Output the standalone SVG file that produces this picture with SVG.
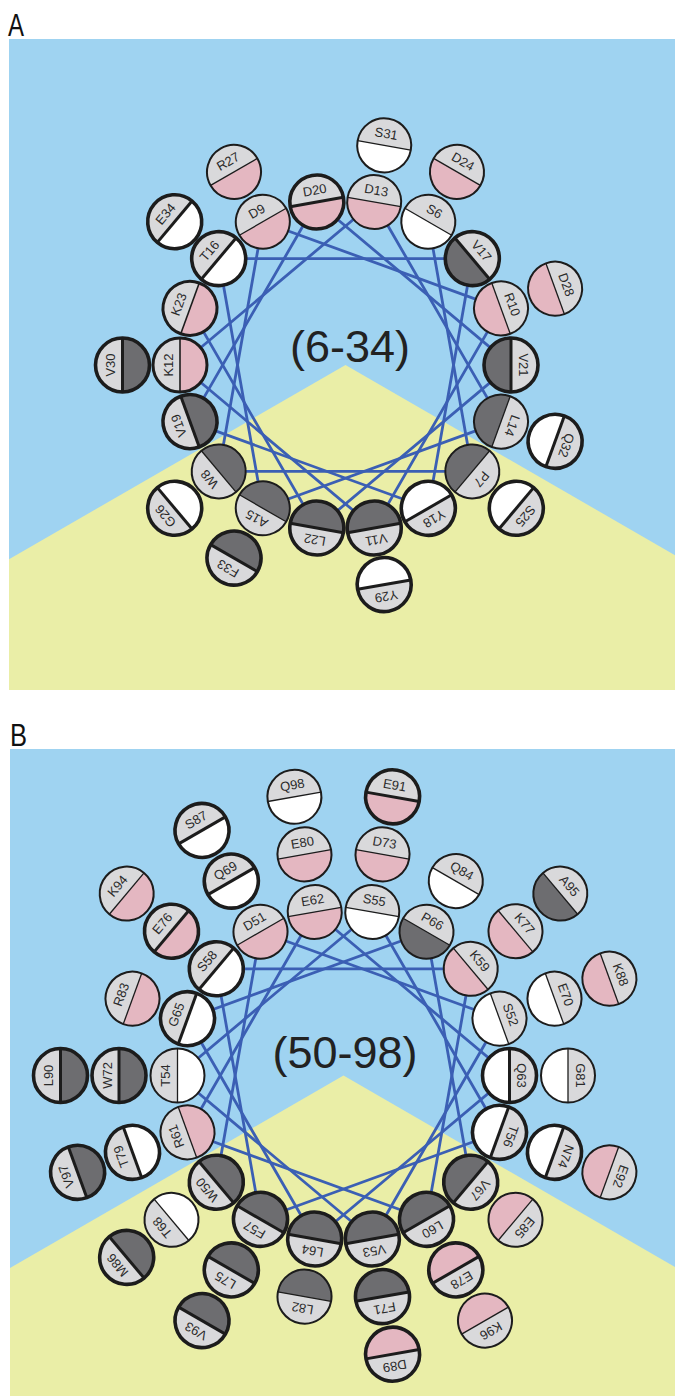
<svg xmlns="http://www.w3.org/2000/svg" xmlns:xlink="http://www.w3.org/1999/xlink" width="675" height="1396" viewBox="0 0 675 1396">
<style>
.bg{fill:#9fd3f1}
.yl{fill:#eaeea7}
.cn line{stroke:#3b5fb4;stroke-width:2.8;stroke-linecap:round}
.g{fill:#d9d9db}
.P{fill:#e4b7c1}
.W{fill:#ffffff}
.D{fill:#6d6d70}
.o{fill:none;stroke:#1c1c1c}
.dv{stroke:#1c1c1c}
.t .o{stroke-width:3.6}
.t .dv{stroke-width:3}
.n .o{stroke-width:2}
.n .dv{stroke-width:1.3}
.m .o{stroke-width:3}
.m .dv{stroke-width:1.6}
.nd text{font-family:"Liberation Sans",Arial,sans-serif;font-size:13px;fill:#2a2a2a;text-anchor:middle}
.big{font-family:"Liberation Sans",Arial,sans-serif;font-size:45px;fill:#222;text-anchor:middle}
.pl{font-family:"Liberation Sans",Arial,sans-serif;font-size:32px;fill:#111}
</style>
<defs>
<path id="hu" d="M-27 0A27 27 0 0 1 27 0Z"/>
<path id="hl" d="M27 0A27 27 0 0 1-27 0Z"/>
</defs>
<g id="backgrounds">
<rect class="bg" x="9" y="39" width="666" height="651"/>
<polygon class="yl" points="9,559.3 345.5,365 675,555.2 675,690 9,690"/>
<rect class="bg" x="10" y="749" width="665" height="647"/>
<polygon class="yl" points="10,1268.1 343.5,1075.5 675,1266.9 675,1396 10,1396"/>
</g>
<text class="pl" x="8" y="36" textLength="16" lengthAdjust="spacingAndGlyphs">A</text>
<text class="pl" x="10" y="746" textLength="17" lengthAdjust="spacingAndGlyphs">B</text>
<g id="connectors" class="cn">
<line x1="428.3" y1="221.7" x2="472.3" y2="471.4"/>
<line x1="472.3" y1="471.4" x2="218.7" y2="471.4"/>
<line x1="218.7" y1="471.4" x2="262.8" y2="221.7"/>
<line x1="262.8" y1="221.7" x2="501.0" y2="308.4"/>
<line x1="501.0" y1="308.4" x2="374.2" y2="528.0"/>
<line x1="374.2" y1="528.0" x2="180.0" y2="365.0"/>
<line x1="180.0" y1="365.0" x2="374.2" y2="202.0"/>
<line x1="374.2" y1="202.0" x2="501.0" y2="421.6"/>
<line x1="501.0" y1="421.6" x2="262.8" y2="508.3"/>
<line x1="262.8" y1="508.3" x2="218.7" y2="258.6"/>
<line x1="218.7" y1="258.6" x2="472.3" y2="258.6"/>
<line x1="472.3" y1="258.6" x2="428.3" y2="508.3"/>
<line x1="428.3" y1="508.3" x2="190.0" y2="421.6"/>
<line x1="190.0" y1="421.6" x2="316.8" y2="202.0"/>
<line x1="316.8" y1="202.0" x2="511.0" y2="365.0"/>
<line x1="511.0" y1="365.0" x2="316.8" y2="528.0"/>
<line x1="316.8" y1="528.0" x2="190.0" y2="308.4"/>
<line x1="216.3" y1="1182.2" x2="260.5" y2="931.7"/>
<line x1="260.5" y1="931.7" x2="499.5" y2="1018.7"/>
<line x1="499.5" y1="1018.7" x2="372.3" y2="1239.0"/>
<line x1="372.3" y1="1239.0" x2="177.5" y2="1075.5"/>
<line x1="177.5" y1="1075.5" x2="372.3" y2="912.0"/>
<line x1="372.3" y1="912.0" x2="499.5" y2="1132.3"/>
<line x1="499.5" y1="1132.3" x2="260.5" y2="1219.3"/>
<line x1="260.5" y1="1219.3" x2="216.3" y2="968.8"/>
<line x1="216.3" y1="968.8" x2="470.7" y2="968.8"/>
<line x1="470.7" y1="968.8" x2="426.5" y2="1219.3"/>
<line x1="426.5" y1="1219.3" x2="187.5" y2="1132.3"/>
<line x1="187.5" y1="1132.3" x2="314.7" y2="912.0"/>
<line x1="314.7" y1="912.0" x2="509.5" y2="1075.5"/>
<line x1="509.5" y1="1075.5" x2="314.7" y2="1239.0"/>
<line x1="314.7" y1="1239.0" x2="187.5" y2="1018.7"/>
<line x1="187.5" y1="1018.7" x2="426.5" y2="931.7"/>
<line x1="426.5" y1="931.7" x2="470.7" y2="1182.2"/>
</g>
<text class="big" x="350" y="362">(6-34)</text>
<text class="big" x="345" y="1068">(50-98)</text>
<g id="nodesA" class="nd">
<g id="S6" class="n" transform="translate(428.3 221.7) rotate(30)"><use xlink:href="#hu" class="g"/><use xlink:href="#hl" class="W"/><line class="dv" x1="-27" x2="27"/><circle class="o" r="27"/><text y="-7.5">S6</text></g>
<g id="P7" class="n" transform="translate(472.3 471.4) rotate(130)"><use xlink:href="#hu" class="g"/><use xlink:href="#hl" class="D"/><line class="dv" x1="-27" x2="27"/><circle class="o" r="27"/><text y="-7.5">P7</text></g>
<g id="W8" class="n" transform="translate(218.7 471.4) rotate(230)"><use xlink:href="#hu" class="g"/><use xlink:href="#hl" class="D"/><line class="dv" x1="-27" x2="27"/><circle class="o" r="27"/><text y="-7.5">W8</text></g>
<g id="D9" class="n" transform="translate(262.8 221.7) rotate(330)"><use xlink:href="#hu" class="g"/><use xlink:href="#hl" class="P"/><line class="dv" x1="-27" x2="27"/><circle class="o" r="27"/><text y="-7.5">D9</text></g>
<g id="R10" class="n" transform="translate(501.0 308.4) rotate(70)"><use xlink:href="#hu" class="g"/><use xlink:href="#hl" class="P"/><line class="dv" x1="-27" x2="27"/><circle class="o" r="27"/><text y="-7.5">R10</text></g>
<g id="V11" class="t" transform="translate(374.2 528.0) rotate(170)"><use xlink:href="#hu" class="g"/><use xlink:href="#hl" class="D"/><line class="dv" x1="-27" x2="27"/><circle class="o" r="27"/><text y="-7.5">V11</text></g>
<g id="K12" class="m" transform="translate(180.0 365.0) rotate(270)"><use xlink:href="#hu" class="g"/><use xlink:href="#hl" class="P"/><line class="dv" x1="-27" x2="27"/><circle class="o" r="27"/><text y="-7.5">K12</text></g>
<g id="D13" class="n" transform="translate(374.2 202.0) rotate(10)"><use xlink:href="#hu" class="g"/><use xlink:href="#hl" class="P"/><line class="dv" x1="-27" x2="27"/><circle class="o" r="27"/><text y="-7.5">D13</text></g>
<g id="L14" class="n" transform="translate(501.0 421.6) rotate(110)"><use xlink:href="#hu" class="g"/><use xlink:href="#hl" class="D"/><line class="dv" x1="-27" x2="27"/><circle class="o" r="27"/><text y="-7.5">L14</text></g>
<g id="A15" class="n" transform="translate(262.8 508.3) rotate(210)"><use xlink:href="#hu" class="g"/><use xlink:href="#hl" class="D"/><line class="dv" x1="-27" x2="27"/><circle class="o" r="27"/><text y="-7.5">A15</text></g>
<g id="T16" class="t" transform="translate(218.7 258.6) rotate(310)"><use xlink:href="#hu" class="g"/><use xlink:href="#hl" class="W"/><line class="dv" x1="-27" x2="27"/><circle class="o" r="27"/><text y="-7.5">T16</text></g>
<g id="V17" class="t" transform="translate(472.3 258.6) rotate(50)"><use xlink:href="#hu" class="g"/><use xlink:href="#hl" class="D"/><line class="dv" x1="-27" x2="27"/><circle class="o" r="27"/><text y="-7.5">V17</text></g>
<g id="Y18" class="t" transform="translate(428.3 508.3) rotate(150)"><use xlink:href="#hu" class="g"/><use xlink:href="#hl" class="W"/><line class="dv" x1="-27" x2="27"/><circle class="o" r="27"/><text y="-7.5">Y18</text></g>
<g id="V19" class="t" transform="translate(190.0 421.6) rotate(250)"><use xlink:href="#hu" class="g"/><use xlink:href="#hl" class="D"/><line class="dv" x1="-27" x2="27"/><circle class="o" r="27"/><text y="-7.5">V19</text></g>
<g id="D20" class="t" transform="translate(316.8 202.0) rotate(350)"><use xlink:href="#hu" class="g"/><use xlink:href="#hl" class="P"/><line class="dv" x1="-27" x2="27"/><circle class="o" r="27"/><text y="-7.5">D20</text></g>
<g id="V21" class="t" transform="translate(511.0 365.0) rotate(90)"><use xlink:href="#hu" class="g"/><use xlink:href="#hl" class="D"/><line class="dv" x1="-27" x2="27"/><circle class="o" r="27"/><text y="-7.5">V21</text></g>
<g id="L22" class="t" transform="translate(316.8 528.0) rotate(190)"><use xlink:href="#hu" class="g"/><use xlink:href="#hl" class="D"/><line class="dv" x1="-27" x2="27"/><circle class="o" r="27"/><text y="-7.5">L22</text></g>
<g id="K23" class="m" transform="translate(190.0 308.4) rotate(290)"><use xlink:href="#hu" class="g"/><use xlink:href="#hl" class="P"/><line class="dv" x1="-27" x2="27"/><circle class="o" r="27"/><text y="-7.5">K23</text></g>
<g id="D24" class="n" transform="translate(457.0 171.9) rotate(30)"><use xlink:href="#hu" class="g"/><use xlink:href="#hl" class="P"/><line class="dv" x1="-27" x2="27"/><circle class="o" r="27"/><text y="-7.5">D24</text></g>
<g id="S25" class="t" transform="translate(516.3 508.3) rotate(130)"><use xlink:href="#hu" class="g"/><use xlink:href="#hl" class="W"/><line class="dv" x1="-27" x2="27"/><circle class="o" r="27"/><text y="-7.5">S25</text></g>
<g id="G26" class="t" transform="translate(174.7 508.3) rotate(230)"><use xlink:href="#hu" class="g"/><use xlink:href="#hl" class="W"/><line class="dv" x1="-27" x2="27"/><circle class="o" r="27"/><text y="-7.5">G26</text></g>
<g id="R27" class="n" transform="translate(234.0 171.9) rotate(330)"><use xlink:href="#hu" class="g"/><use xlink:href="#hl" class="P"/><line class="dv" x1="-27" x2="27"/><circle class="o" r="27"/><text y="-7.5">R27</text></g>
<g id="D28" class="n" transform="translate(555.1 288.7) rotate(70)"><use xlink:href="#hu" class="g"/><use xlink:href="#hl" class="P"/><line class="dv" x1="-27" x2="27"/><circle class="o" r="27"/><text y="-7.5">D28</text></g>
<g id="Y29" class="t" transform="translate(384.2 584.6) rotate(170)"><use xlink:href="#hu" class="g"/><use xlink:href="#hl" class="W"/><line class="dv" x1="-27" x2="27"/><circle class="o" r="27"/><text y="-7.5">Y29</text></g>
<g id="V30" class="t" transform="translate(122.5 365.0) rotate(270)"><use xlink:href="#hu" class="g"/><use xlink:href="#hl" class="D"/><line class="dv" x1="-27" x2="27"/><circle class="o" r="27"/><text y="-7.5">V30</text></g>
<g id="S31" class="n" transform="translate(384.2 145.4) rotate(10)"><use xlink:href="#hu" class="g"/><use xlink:href="#hl" class="W"/><line class="dv" x1="-27" x2="27"/><circle class="o" r="27"/><text y="-7.5">S31</text></g>
<g id="Q32" class="t" transform="translate(555.1 441.3) rotate(110)"><use xlink:href="#hu" class="g"/><use xlink:href="#hl" class="W"/><line class="dv" x1="-27" x2="27"/><circle class="o" r="27"/><text y="-7.5">Q32</text></g>
<g id="F33" class="t" transform="translate(234.0 558.1) rotate(210)"><use xlink:href="#hu" class="g"/><use xlink:href="#hl" class="D"/><line class="dv" x1="-27" x2="27"/><circle class="o" r="27"/><text y="-7.5">F33</text></g>
<g id="E34" class="t" transform="translate(174.7 221.7) rotate(310)"><use xlink:href="#hu" class="g"/><use xlink:href="#hl" class="W"/><line class="dv" x1="-27" x2="27"/><circle class="o" r="27"/><text y="-7.5">E34</text></g>
</g>
<g id="nodesB" class="nd">
<g id="W50" class="t" transform="translate(216.3 1182.2) rotate(230)"><use xlink:href="#hu" class="g"/><use xlink:href="#hl" class="D"/><line class="dv" x1="-27" x2="27"/><circle class="o" r="27"/><text y="-7.5">W50</text></g>
<g id="D51" class="n" transform="translate(260.5 931.7) rotate(330)"><use xlink:href="#hu" class="g"/><use xlink:href="#hl" class="P"/><line class="dv" x1="-27" x2="27"/><circle class="o" r="27"/><text y="-7.5">D51</text></g>
<g id="S52" class="n" transform="translate(499.5 1018.7) rotate(70)"><use xlink:href="#hu" class="g"/><use xlink:href="#hl" class="W"/><line class="dv" x1="-27" x2="27"/><circle class="o" r="27"/><text y="-7.5">S52</text></g>
<g id="V53" class="t" transform="translate(372.3 1239.0) rotate(170)"><use xlink:href="#hu" class="g"/><use xlink:href="#hl" class="D"/><line class="dv" x1="-27" x2="27"/><circle class="o" r="27"/><text y="-7.5">V53</text></g>
<g id="T54" class="n" transform="translate(177.5 1075.5) rotate(270)"><use xlink:href="#hu" class="g"/><use xlink:href="#hl" class="W"/><line class="dv" x1="-27" x2="27"/><circle class="o" r="27"/><text y="-7.5">T54</text></g>
<g id="S55" class="n" transform="translate(372.3 912.0) rotate(10)"><use xlink:href="#hu" class="g"/><use xlink:href="#hl" class="W"/><line class="dv" x1="-27" x2="27"/><circle class="o" r="27"/><text y="-7.5">S55</text></g>
<g id="T56" class="t" transform="translate(499.5 1132.3) rotate(110)"><use xlink:href="#hu" class="g"/><use xlink:href="#hl" class="W"/><line class="dv" x1="-27" x2="27"/><circle class="o" r="27"/><text y="-7.5">T56</text></g>
<g id="F57" class="t" transform="translate(260.5 1219.3) rotate(210)"><use xlink:href="#hu" class="g"/><use xlink:href="#hl" class="D"/><line class="dv" x1="-27" x2="27"/><circle class="o" r="27"/><text y="-7.5">F57</text></g>
<g id="S58" class="t" transform="translate(216.3 968.8) rotate(310)"><use xlink:href="#hu" class="g"/><use xlink:href="#hl" class="W"/><line class="dv" x1="-27" x2="27"/><circle class="o" r="27"/><text y="-7.5">S58</text></g>
<g id="K59" class="n" transform="translate(470.7 968.8) rotate(50)"><use xlink:href="#hu" class="g"/><use xlink:href="#hl" class="P"/><line class="dv" x1="-27" x2="27"/><circle class="o" r="27"/><text y="-7.5">K59</text></g>
<g id="L60" class="t" transform="translate(426.5 1219.3) rotate(150)"><use xlink:href="#hu" class="g"/><use xlink:href="#hl" class="D"/><line class="dv" x1="-27" x2="27"/><circle class="o" r="27"/><text y="-7.5">L60</text></g>
<g id="R61" class="n" transform="translate(187.5 1132.3) rotate(250)"><use xlink:href="#hu" class="g"/><use xlink:href="#hl" class="P"/><line class="dv" x1="-27" x2="27"/><circle class="o" r="27"/><text y="-7.5">R61</text></g>
<g id="E62" class="n" transform="translate(314.7 912.0) rotate(350)"><use xlink:href="#hu" class="g"/><use xlink:href="#hl" class="P"/><line class="dv" x1="-27" x2="27"/><circle class="o" r="27"/><text y="-7.5">E62</text></g>
<g id="Q63" class="t" transform="translate(509.5 1075.5) rotate(90)"><use xlink:href="#hu" class="g"/><use xlink:href="#hl" class="W"/><line class="dv" x1="-27" x2="27"/><circle class="o" r="27"/><text y="-7.5">Q63</text></g>
<g id="L64" class="t" transform="translate(314.7 1239.0) rotate(190)"><use xlink:href="#hu" class="g"/><use xlink:href="#hl" class="D"/><line class="dv" x1="-27" x2="27"/><circle class="o" r="27"/><text y="-7.5">L64</text></g>
<g id="G65" class="t" transform="translate(187.5 1018.7) rotate(290)"><use xlink:href="#hu" class="g"/><use xlink:href="#hl" class="W"/><line class="dv" x1="-27" x2="27"/><circle class="o" r="27"/><text y="-7.5">G65</text></g>
<g id="P66" class="n" transform="translate(426.5 931.7) rotate(30)"><use xlink:href="#hu" class="g"/><use xlink:href="#hl" class="D"/><line class="dv" x1="-27" x2="27"/><circle class="o" r="27"/><text y="-7.5">P66</text></g>
<g id="V67" class="t" transform="translate(470.7 1182.2) rotate(130)"><use xlink:href="#hu" class="g"/><use xlink:href="#hl" class="D"/><line class="dv" x1="-27" x2="27"/><circle class="o" r="27"/><text y="-7.5">V67</text></g>
<g id="T68" class="n" transform="translate(171.5 1219.8) rotate(230)"><use xlink:href="#hu" class="g"/><use xlink:href="#hl" class="W"/><line class="dv" x1="-27" x2="27"/><circle class="o" r="27"/><text y="-7.5">T68</text></g>
<g id="Q69" class="t" transform="translate(231.3 881.1) rotate(330)"><use xlink:href="#hu" class="g"/><use xlink:href="#hl" class="W"/><line class="dv" x1="-27" x2="27"/><circle class="o" r="27"/><text y="-7.5">Q69</text></g>
<g id="E70" class="n" transform="translate(554.5 998.7) rotate(70)"><use xlink:href="#hu" class="g"/><use xlink:href="#hl" class="W"/><line class="dv" x1="-27" x2="27"/><circle class="o" r="27"/><text y="-7.5">E70</text></g>
<g id="F71" class="t" transform="translate(382.5 1296.6) rotate(170)"><use xlink:href="#hu" class="g"/><use xlink:href="#hl" class="D"/><line class="dv" x1="-27" x2="27"/><circle class="o" r="27"/><text y="-7.5">F71</text></g>
<g id="W72" class="t" transform="translate(119.0 1075.5) rotate(270)"><use xlink:href="#hu" class="g"/><use xlink:href="#hl" class="D"/><line class="dv" x1="-27" x2="27"/><circle class="o" r="27"/><text y="-7.5">W72</text></g>
<g id="D73" class="n" transform="translate(382.5 854.4) rotate(10)"><use xlink:href="#hu" class="g"/><use xlink:href="#hl" class="P"/><line class="dv" x1="-27" x2="27"/><circle class="o" r="27"/><text y="-7.5">D73</text></g>
<g id="N74" class="t" transform="translate(554.5 1152.3) rotate(110)"><use xlink:href="#hu" class="g"/><use xlink:href="#hl" class="W"/><line class="dv" x1="-27" x2="27"/><circle class="o" r="27"/><text y="-7.5">N74</text></g>
<g id="L75" class="t" transform="translate(231.3 1269.9) rotate(210)"><use xlink:href="#hu" class="g"/><use xlink:href="#hl" class="D"/><line class="dv" x1="-27" x2="27"/><circle class="o" r="27"/><text y="-7.5">L75</text></g>
<g id="E76" class="t" transform="translate(171.5 931.2) rotate(310)"><use xlink:href="#hu" class="g"/><use xlink:href="#hl" class="P"/><line class="dv" x1="-27" x2="27"/><circle class="o" r="27"/><text y="-7.5">E76</text></g>
<g id="K77" class="n" transform="translate(515.5 931.2) rotate(50)"><use xlink:href="#hu" class="g"/><use xlink:href="#hl" class="P"/><line class="dv" x1="-27" x2="27"/><circle class="o" r="27"/><text y="-7.5">K77</text></g>
<g id="E78" class="t" transform="translate(455.8 1269.9) rotate(150)"><use xlink:href="#hu" class="g"/><use xlink:href="#hl" class="P"/><line class="dv" x1="-27" x2="27"/><circle class="o" r="27"/><text y="-7.5">E78</text></g>
<g id="T79" class="t" transform="translate(132.5 1152.3) rotate(250)"><use xlink:href="#hu" class="g"/><use xlink:href="#hl" class="W"/><line class="dv" x1="-27" x2="27"/><circle class="o" r="27"/><text y="-7.5">T79</text></g>
<g id="E80" class="n" transform="translate(304.5 854.4) rotate(350)"><use xlink:href="#hu" class="g"/><use xlink:href="#hl" class="P"/><line class="dv" x1="-27" x2="27"/><circle class="o" r="27"/><text y="-7.5">E80</text></g>
<g id="G81" class="n" transform="translate(568.0 1075.5) rotate(90)"><use xlink:href="#hu" class="g"/><use xlink:href="#hl" class="W"/><line class="dv" x1="-27" x2="27"/><circle class="o" r="27"/><text y="-7.5">G81</text></g>
<g id="L82" class="n" transform="translate(304.5 1296.6) rotate(190)"><use xlink:href="#hu" class="g"/><use xlink:href="#hl" class="D"/><line class="dv" x1="-27" x2="27"/><circle class="o" r="27"/><text y="-7.5">L82</text></g>
<g id="R83" class="n" transform="translate(132.5 998.7) rotate(290)"><use xlink:href="#hu" class="g"/><use xlink:href="#hl" class="P"/><line class="dv" x1="-27" x2="27"/><circle class="o" r="27"/><text y="-7.5">R83</text></g>
<g id="Q84" class="n" transform="translate(455.8 881.1) rotate(30)"><use xlink:href="#hu" class="g"/><use xlink:href="#hl" class="W"/><line class="dv" x1="-27" x2="27"/><circle class="o" r="27"/><text y="-7.5">Q84</text></g>
<g id="E85" class="n" transform="translate(515.5 1219.8) rotate(130)"><use xlink:href="#hu" class="g"/><use xlink:href="#hl" class="P"/><line class="dv" x1="-27" x2="27"/><circle class="o" r="27"/><text y="-7.5">E85</text></g>
<g id="M86" class="t" transform="translate(126.7 1257.4) rotate(230)"><use xlink:href="#hu" class="g"/><use xlink:href="#hl" class="D"/><line class="dv" x1="-27" x2="27"/><circle class="o" r="27"/><text y="-7.5">M86</text></g>
<g id="S87" class="t" transform="translate(202.0 830.4) rotate(330)"><use xlink:href="#hu" class="g"/><use xlink:href="#hl" class="W"/><line class="dv" x1="-27" x2="27"/><circle class="o" r="27"/><text y="-7.5">S87</text></g>
<g id="K88" class="n" transform="translate(609.4 978.7) rotate(70)"><use xlink:href="#hu" class="g"/><use xlink:href="#hl" class="P"/><line class="dv" x1="-27" x2="27"/><circle class="o" r="27"/><text y="-7.5">K88</text></g>
<g id="D89" class="t" transform="translate(392.6 1354.2) rotate(170)"><use xlink:href="#hu" class="g"/><use xlink:href="#hl" class="P"/><line class="dv" x1="-27" x2="27"/><circle class="o" r="27"/><text y="-7.5">D89</text></g>
<g id="L90" class="t" transform="translate(60.5 1075.5) rotate(270)"><use xlink:href="#hu" class="g"/><use xlink:href="#hl" class="D"/><line class="dv" x1="-27" x2="27"/><circle class="o" r="27"/><text y="-7.5">L90</text></g>
<g id="E91" class="t" transform="translate(392.6 796.8) rotate(10)"><use xlink:href="#hu" class="g"/><use xlink:href="#hl" class="P"/><line class="dv" x1="-27" x2="27"/><circle class="o" r="27"/><text y="-7.5">E91</text></g>
<g id="E92" class="n" transform="translate(609.4 1172.3) rotate(110)"><use xlink:href="#hu" class="g"/><use xlink:href="#hl" class="P"/><line class="dv" x1="-27" x2="27"/><circle class="o" r="27"/><text y="-7.5">E92</text></g>
<g id="V93" class="t" transform="translate(202.0 1320.6) rotate(210)"><use xlink:href="#hu" class="g"/><use xlink:href="#hl" class="D"/><line class="dv" x1="-27" x2="27"/><circle class="o" r="27"/><text y="-7.5">V93</text></g>
<g id="K94" class="n" transform="translate(126.7 893.6) rotate(310)"><use xlink:href="#hu" class="g"/><use xlink:href="#hl" class="P"/><line class="dv" x1="-27" x2="27"/><circle class="o" r="27"/><text y="-7.5">K94</text></g>
<g id="A95" class="n" transform="translate(560.3 893.6) rotate(50)"><use xlink:href="#hu" class="g"/><use xlink:href="#hl" class="D"/><line class="dv" x1="-27" x2="27"/><circle class="o" r="27"/><text y="-7.5">A95</text></g>
<g id="K96" class="n" transform="translate(485.0 1320.6) rotate(150)"><use xlink:href="#hu" class="g"/><use xlink:href="#hl" class="P"/><line class="dv" x1="-27" x2="27"/><circle class="o" r="27"/><text y="-7.5">K96</text></g>
<g id="V97" class="t" transform="translate(77.6 1172.3) rotate(250)"><use xlink:href="#hu" class="g"/><use xlink:href="#hl" class="D"/><line class="dv" x1="-27" x2="27"/><circle class="o" r="27"/><text y="-7.5">V97</text></g>
<g id="Q98" class="n" transform="translate(294.4 796.8) rotate(350)"><use xlink:href="#hu" class="g"/><use xlink:href="#hl" class="W"/><line class="dv" x1="-27" x2="27"/><circle class="o" r="27"/><text y="-7.5">Q98</text></g>
</g>
</svg>
